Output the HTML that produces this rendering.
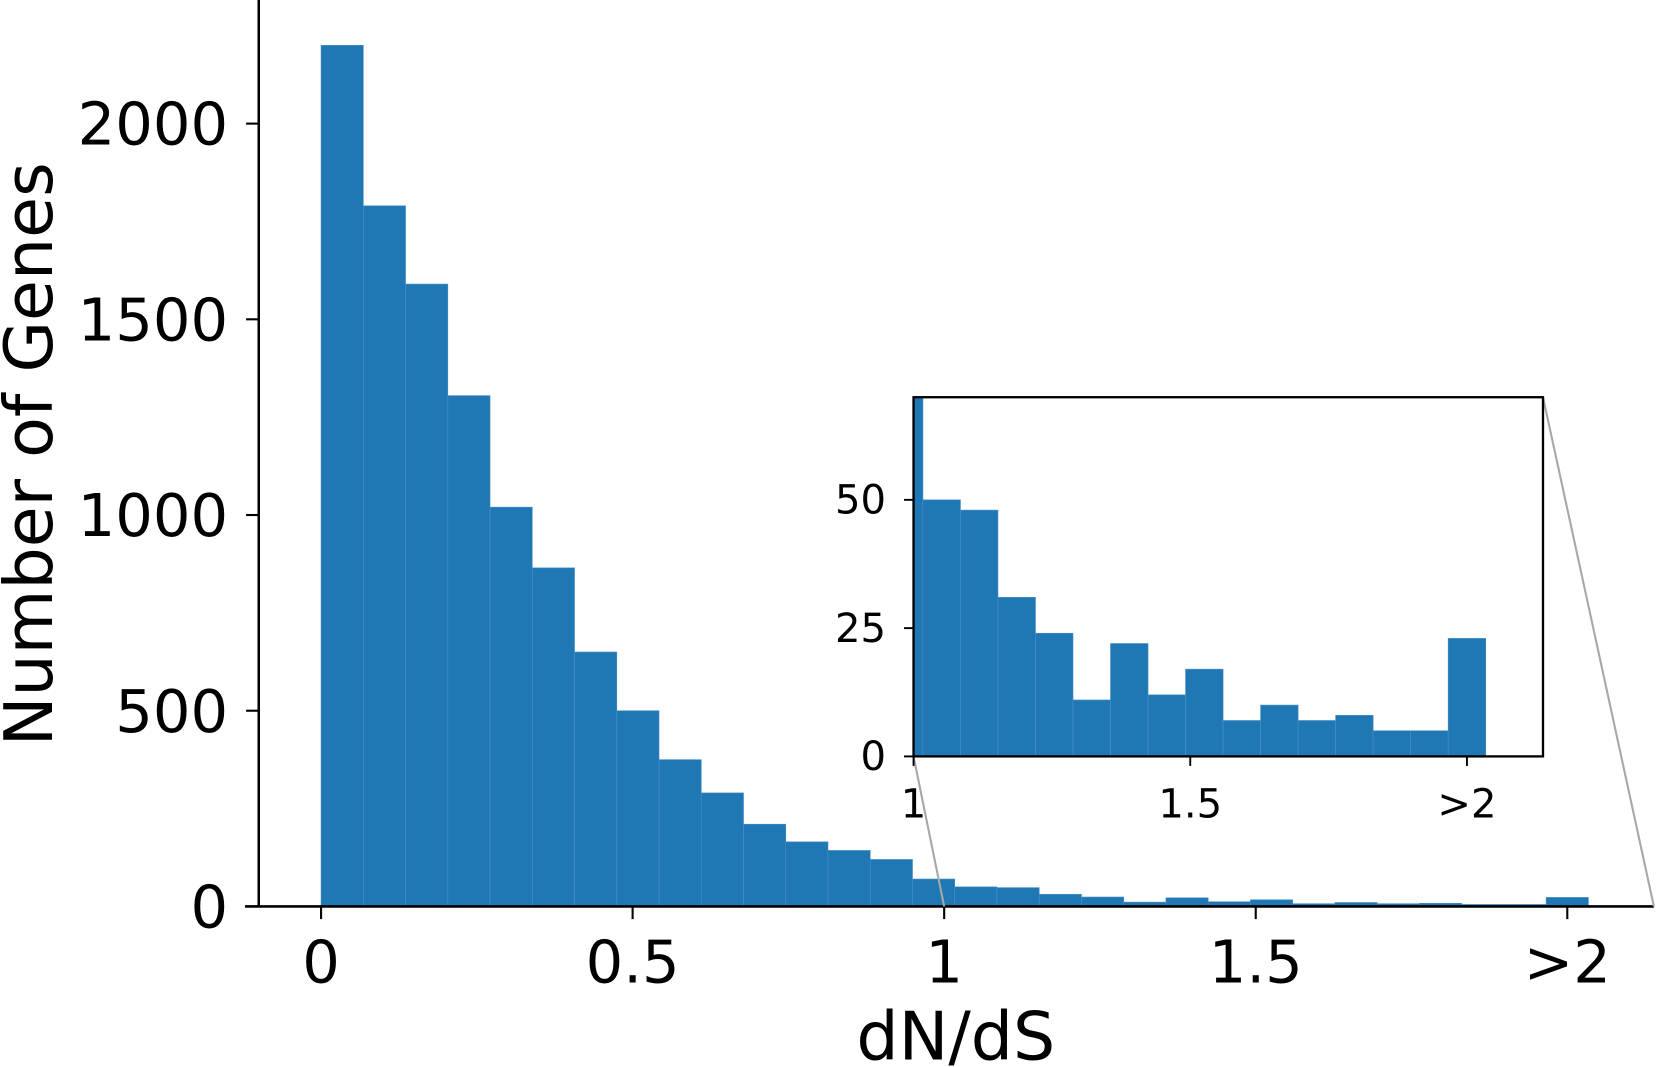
<!DOCTYPE html>
<html><head><meta charset="utf-8"><style>
html,body{margin:0;padding:0;background:#fff;}
svg{display:block;font-family:"DejaVu Sans","Liberation Sans",sans-serif;}
</style></head><body>
<svg id="chart" width="1656" height="1067" viewBox="0 0 1568 1010" preserveAspectRatio="none" xmlns="http://www.w3.org/2000/svg"></svg>
<script>
const counts = [2200,1790,1590,1305,1020,865,650,500,375,290,210,165,143,120,70,50,48,31,24,11,22,12,17,7,10,7,8,5,5,23];
const xTickValues = [0,0.5,1,1.5,2];
const xTickLabels = ["0","0.5","1","1.5",">2"];
const yTickValues = [0,500,1000,1500,2000];
const yTickLabels = ["0","500","1000","1500","2000"];
const insetYTicks = [0,25,50];
const insetXTickValues = [1,1.5,2];
const insetXTickLabels = ["1","1.5",">2"];
const binWidth = 40/590;

const NS = "http://www.w3.org/2000/svg";
const svg = document.getElementById("chart");
function mk(tag, attrs, parent){const e=document.createElementNS(NS,tag);for(const k in attrs)e.setAttribute(k,attrs[k]);(parent||svg).appendChild(e);return e;}

const X = v => 304 + v*590;
const Y = v => 858 - v*(741/2000);
const gBars = mk("g",{});


counts.forEach((c,i)=>{
  const x0=X(i*binWidth), x1=X((i+1)*binWidth);
  const r=mk("rect",{x:x0,y:Y(c),width:x1-x0,height:858-Y(c),fill:"#1f77b4",stroke:"#4b8fc6","stroke-width":0.6},gBars);
  
  
});
const ys=mk("line",{x1:245,y1:0,x2:245,y2:858,stroke:"#000","stroke-width":2.4});

const xs=mk("line",{x1:232,y1:858,x2:1566,y2:858,stroke:"#000","stroke-width":2.4});

yTickValues.forEach((v,i)=>{
  mk("line",{x1:233,y1:Y(v),x2:245,y2:Y(v),stroke:"#000","stroke-width":2});
  const t=mk("text",{x:216,y:Y(v)+20,"text-anchor":"end","font-size":56});
  t.textContent=yTickLabels[i];
  
});
xTickValues.forEach((v,i)=>{
  mk("line",{x1:X(v),y1:858,x2:X(v),y2:870,stroke:"#000","stroke-width":2});
  const t=mk("text",{x:X(v),y:930,"text-anchor":"middle","font-size":56});
  t.textContent=xTickLabels[i];
  
});
const xl=mk("text",{x:905,y:1003,"text-anchor":"middle","font-size":63});
xl.textContent="dN/dS";
const yl=mk("text",{x:0,y:0,"text-anchor":"middle","font-size":63,transform:"translate(49,430) rotate(-90)"});
yl.textContent="Number of Genes";

const L=865,R=1461,T=376,B=716;
const IX = v => L + (v-1)*524;
const IY = v => B - v*(340/70);
const c1=mk("line",{x1:L,y1:B,x2:X(1),y2:858,stroke:"#a8a8a8","stroke-width":2});

const c2=mk("line",{x1:R,y1:T,x2:1566,y2:858,stroke:"#a8a8a8","stroke-width":2});

const ig=mk("g",{});

mk("rect",{x:L,y:T,width:R-L,height:B-T,fill:"#fff"},ig);
const clip=mk("clipPath",{id:"ic"},ig);
mk("rect",{x:L,y:T,width:R-L,height:B-T},clip);
const ib=mk("g",{"clip-path":"url(#ic)"},ig);
counts.forEach((c,i)=>{
  const x0=IX(i*binWidth), x1=IX((i+1)*binWidth);
  const r=mk("rect",{x:x0,y:IY(c),width:x1-x0,height:B-IY(c),fill:"#1f77b4",stroke:"#4b8fc6","stroke-width":0.6},ib);
  
  
});
mk("rect",{x:L,y:T,width:R-L,height:B-T,fill:"none",stroke:"#000","stroke-width":2.2},ig);
insetYTicks.forEach(v=>{
  mk("line",{x1:L-9,y1:IY(v),x2:L,y2:IY(v),stroke:"#000","stroke-width":1.8},ig);
  const t=mk("text",{x:L-26,y:IY(v)+13,"text-anchor":"end","font-size":38},ig);
  t.textContent=String(v);
});
insetXTickValues.forEach((v,i)=>{
  mk("line",{x1:IX(v),y1:B,x2:IX(v),y2:B+9,stroke:"#000","stroke-width":1.8},ig);
  const t=mk("text",{x:IX(v),y:B+58,"text-anchor":"middle","font-size":38},ig);
  t.textContent=insetXTickLabels[i];
});
</script>
</body></html>
